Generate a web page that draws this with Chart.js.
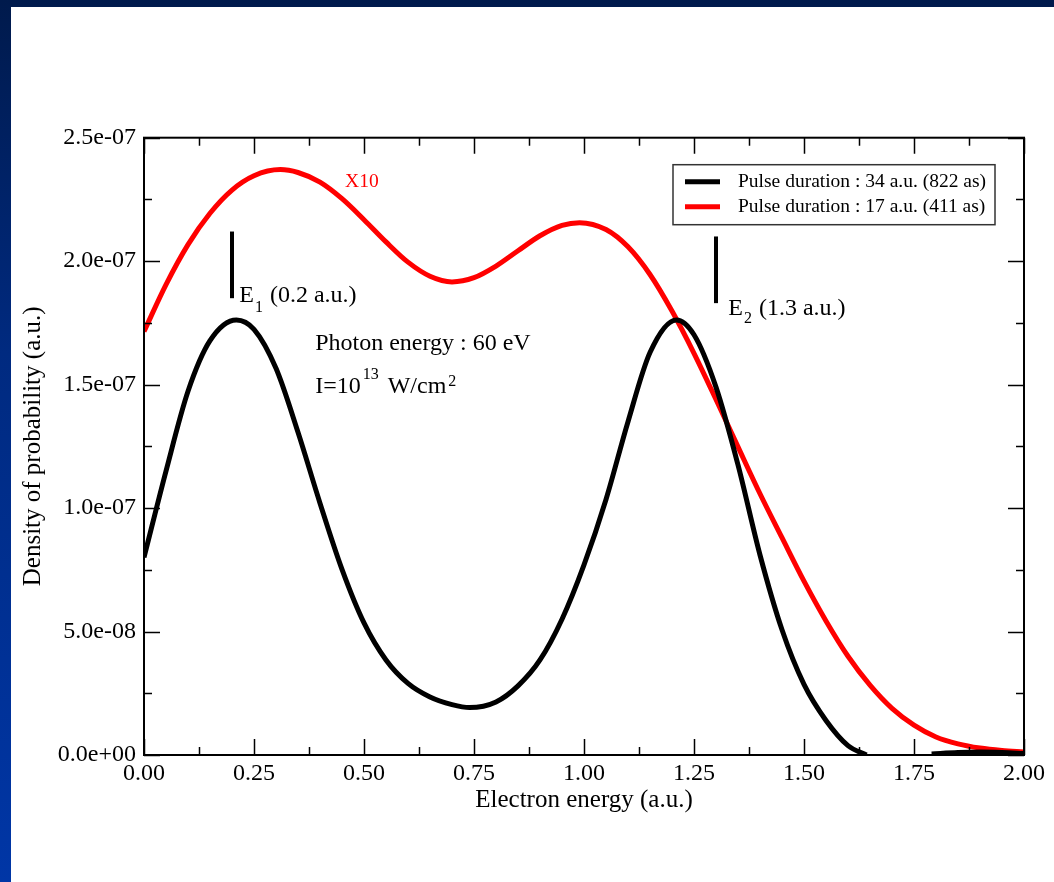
<!DOCTYPE html>
<html>
<head>
<meta charset="utf-8">
<title>Electron energy spectrum</title>
<script src="https://cdn.jsdelivr.net/npm/chart.js@4.4.1/dist/chart.umd.min.js"></script>
<style>
  html, body { margin: 0; padding: 0; overflow: hidden; background: #fff; }
  #wrap { width: 1054px; height: 882px; }
</style>
</head>
<body>
<div id="wrap"><canvas id="spectrum"></canvas></div>
<script>
// Electron energy (a.u.) for each curve
const energyLong = [0, 0.05, 0.10, 0.15, 0.21, 0.25, 0.30, 0.35, 0.40, 0.45, 0.50,
  0.55, 0.60, 0.65, 0.70, 0.74, 0.80, 0.85, 0.90, 0.95, 1.00, 1.05, 1.10, 1.15,
  1.21, 1.25, 1.30, 1.35, 1.40, 1.45, 1.50, 1.55, 1.60, 1.642, 1.72, 1.79, 1.85,
  1.90, 1.95, 2.00];
const energyShort = [0, 0.05, 0.10, 0.15, 0.20, 0.25, 0.31, 0.35, 0.40, 0.45, 0.50,
  0.55, 0.60, 0.65, 0.70, 0.75, 0.80, 0.85, 0.90, 0.95, 0.99, 1.05, 1.10, 1.15,
  1.20, 1.25, 1.30, 1.35, 1.40, 1.45, 1.50, 1.55, 1.60, 1.65, 1.70, 1.75, 1.80,
  1.85, 1.90, 1.95, 2.00];

// Density of probability, 34 a.u. pulse (null = below zero, not drawn)
const densityLong = [0.80e-7, 1.15e-7, 1.473e-7, 1.678e-7, 1.762e-7, 1.724e-7, 1.566e-7,
  1.307e-7, 1.02e-7, 0.752e-7, 0.535e-7, 0.385e-7, 0.29e-7, 0.235e-7, 0.204e-7, 0.192e-7,
  0.215e-7, 0.28e-7, 0.385e-7, 0.55e-7, 0.77e-7, 1.035e-7, 1.35e-7, 1.63e-7, 1.762e-7,
  1.702e-7, 1.49e-7, 1.175e-7, 0.81e-7, 0.507e-7, 0.286e-7, 0.14e-7, 0.038e-7, 0,
  null, 0.004e-7, 0.010e-7, 0.012e-7, 0.010e-7, 0.006e-7];

// Density of probability, 17 a.u. pulse (already multiplied by 10)
const densityShort = [1.715e-7, 1.905e-7, 2.067e-7, 2.194e-7, 2.288e-7, 2.346e-7, 2.371e-7,
  2.359e-7, 2.32e-7, 2.253e-7, 2.168e-7, 2.078e-7, 1.996e-7, 1.939e-7, 1.916e-7, 1.933e-7,
  1.98e-7, 2.042e-7, 2.103e-7, 2.145e-7, 2.156e-7, 2.128e-7, 2.058e-7, 1.946e-7, 1.798e-7,
  1.627e-7, 1.44e-7, 1.248e-7, 1.058e-7, 0.88e-7, 0.704e-7, 0.543e-7, 0.40e-7, 0.283e-7,
  0.189e-7, 0.121e-7, 0.073e-7, 0.045e-7, 0.028e-7, 0.018e-7, 0.012e-7];

const seriesLabels = ['Pulse duration : 34 a.u. (822 as)', 'Pulse duration : 17 a.u. (411 as)'];
const seriesColors = ['#000000', '#ff0000'];

// Resonance markers E1, E2
const markerEnergy = [0.2, 1.3];
const markerTop = [2.12e-7, 2.10e-7];
const markerBottom = [1.85e-7, 1.83e-7];
const markerIndex = ['1', '2'];
const markerValue = ['(0.2 a.u.)', '(1.3 a.u.)'];

const SERIF = '"Liberation Serif", "Times New Roman", serif';

function toPoints(xs, ys) {
  return xs.map((e, i) => ({ x: e, y: ys[i] }));
}

// 2.5e-07 style labels
function sciLabel(v) {
  if (Math.abs(v) < 1e-20) return '0.0e+00';
  const parts = v.toExponential(1).split('e');
  const n = parseInt(parts[1], 10);
  return parts[0] + 'e' + (n < 0 ? '-' : '+') + String(Math.abs(n)).padStart(2, '0');
}

// dark blue slide frame behind the white plot page
const pageBackground = {
  id: 'pageBackground',
  beforeDraw(chart) {
    const { ctx, width, height } = chart;
    const g = ctx.createLinearGradient(0, 0, 0, height);
    g.addColorStop(0, '#001a4c');
    g.addColorStop(0.4, '#002a80');
    g.addColorStop(1, '#0036a6');
    ctx.save();
    ctx.fillStyle = g;
    ctx.fillRect(0, 0, width, height);
    ctx.fillStyle = '#ffffff';
    ctx.fillRect(11, 7, width - 11, height - 7);
    ctx.restore();
  }
};

// box frame with inward major/minor ticks on all four sides
const frameTicks = {
  id: 'frameTicks',
  afterDatasetsDraw(chart) {
    const { ctx, chartArea: a, scales: { x, y } } = chart;
    const major = 16, minor = 8;
    ctx.save();
    ctx.strokeStyle = '#000';
    ctx.lineWidth = 1.5;
    ctx.beginPath();
    const xv = x.ticks.map(t => t.value);
    xv.forEach((v, i) => {
      const px = Math.round(x.getPixelForValue(v)) + 0.5;
      ctx.moveTo(px, a.bottom); ctx.lineTo(px, a.bottom - major);
      ctx.moveTo(px, a.top); ctx.lineTo(px, a.top + major);
      if (i < xv.length - 1) {
        const pm = Math.round(x.getPixelForValue((v + xv[i + 1]) / 2)) + 0.5;
        ctx.moveTo(pm, a.bottom); ctx.lineTo(pm, a.bottom - minor);
        ctx.moveTo(pm, a.top); ctx.lineTo(pm, a.top + minor);
      }
    });
    const yv = y.ticks.map(t => t.value);
    yv.forEach((v, i) => {
      const py = Math.round(y.getPixelForValue(v)) + 0.5;
      ctx.moveTo(a.left, py); ctx.lineTo(a.left + major, py);
      ctx.moveTo(a.right, py); ctx.lineTo(a.right - major, py);
      if (i < yv.length - 1) {
        const pm = Math.round(y.getPixelForValue((v + yv[i + 1]) / 2)) + 0.5;
        ctx.moveTo(a.left, pm); ctx.lineTo(a.left + minor, pm);
        ctx.moveTo(a.right, pm); ctx.lineTo(a.right - minor, pm);
      }
    });
    ctx.stroke();
    ctx.lineWidth = 2;
    ctx.strokeRect(a.left, a.top, a.right - a.left, a.bottom - a.top);
    ctx.restore();
  }
};

// text and markers written inside the plot
const plotNotes = {
  id: 'plotNotes',
  afterDatasetsDraw(chart) {
    const { ctx, scales: { x, y } } = chart;
    const big = '24px ' + SERIF, small = '16px ' + SERIF;
    ctx.save();
    ctx.fillStyle = '#000';
    ctx.strokeStyle = '#000';
    ctx.textBaseline = 'alphabetic';
    ctx.textAlign = 'left';

    // E1 / E2 marker bars with labels
    const labelAt = [[0.2166, 1.836e-7, 10], [1.328, 1.782e-7, 8]];
    markerEnergy.forEach((e, i) => {
      const px = x.getPixelForValue(e);
      ctx.lineWidth = 4;
      ctx.beginPath();
      ctx.moveTo(px, y.getPixelForValue(markerTop[i]));
      ctx.lineTo(px, y.getPixelForValue(markerBottom[i]));
      ctx.stroke();
      let tx = x.getPixelForValue(labelAt[i][0]);
      const ty = y.getPixelForValue(labelAt[i][1]);
      ctx.font = big;
      ctx.fillText('E', tx, ty);
      tx += ctx.measureText('E').width + 1;
      ctx.font = small;
      ctx.fillText(markerIndex[i], tx, ty + labelAt[i][2]);
      tx += ctx.measureText(markerIndex[i]).width + 7;
      ctx.font = big;
      ctx.fillText(markerValue[i], tx, ty);
    });

    // laser parameters
    const px0 = x.getPixelForValue(0.389);
    ctx.font = big;
    ctx.fillText('Photon energy : 60 eV', px0, y.getPixelForValue(1.64e-7));
    const by = y.getPixelForValue(1.465e-7);
    let tx = px0;
    ctx.fillText('I=10', tx, by);
    tx += ctx.measureText('I=10').width + 2;
    ctx.font = small;
    ctx.fillText('13', tx, by - 14);
    tx += ctx.measureText('13').width + 9;
    ctx.font = big;
    ctx.fillText('W/cm', tx, by);
    tx += ctx.measureText('W/cm').width + 2;
    ctx.font = small;
    ctx.fillText('2', tx, by - 7);

    // scaling note for the short pulse
    ctx.fillStyle = '#ff0000';
    ctx.font = '19.5px ' + SERIF;
    ctx.textBaseline = 'middle';
    ctx.fillText('X10', x.getPixelForValue(0.457), y.getPixelForValue(2.322e-7));
    ctx.restore();
  }
};

// boxed legend in the upper right corner of the plot
const boxLegend = {
  id: 'boxLegend',
  afterDraw(chart) {
    const { ctx, chartArea: a } = chart;
    const w = 322, h = 60;
    const left = a.right - 29 - w, top = a.top + 27;
    ctx.save();
    ctx.fillStyle = '#fff';
    ctx.fillRect(left, top, w, h);
    ctx.strokeStyle = '#333';
    ctx.lineWidth = 1.5;
    ctx.strokeRect(left, top, w, h);
    ctx.font = '19.5px ' + SERIF;
    ctx.textBaseline = 'middle';
    ctx.textAlign = 'left';
    chart.data.datasets.forEach((ds, i) => {
      const cy = top + 17 + i * 25;
      ctx.strokeStyle = ds.borderColor;
      ctx.lineWidth = 5;
      ctx.beginPath();
      ctx.moveTo(left + 12, cy);
      ctx.lineTo(left + 47, cy);
      ctx.stroke();
      ctx.fillStyle = '#000';
      ctx.fillText(ds.label, left + 65, cy);
    });
    ctx.restore();
  }
};

new Chart(document.getElementById('spectrum'), {
  type: 'line',
  data: {
    datasets: [
      {
        label: seriesLabels[0],
        data: toPoints(energyLong, densityLong),
        borderColor: seriesColors[0],
        borderWidth: 5,
        pointRadius: 0,
        cubicInterpolationMode: 'monotone',
        spanGaps: false
      },
      {
        label: seriesLabels[1],
        data: toPoints(energyShort, densityShort),
        borderColor: seriesColors[1],
        borderWidth: 5,
        pointRadius: 0,
        cubicInterpolationMode: 'monotone'
      }
    ]
  },
  options: {
    responsive: true,
    maintainAspectRatio: false,
    animation: false,
    events: [],
    layout: { padding: { left: 0, top: 137.7, right: 30, bottom: 0 } },
    plugins: {
      legend: { display: false },
      tooltip: { enabled: false }
    },
    scales: {
      x: {
        type: 'linear',
        min: 0,
        max: 2,
        grid: { display: false, drawTicks: false },
        border: { display: false },
        ticks: {
          stepSize: 0.25,
          padding: 4,
          color: '#000',
          font: { family: SERIF, size: 24 },
          maxRotation: 0,
          callback: v => v.toFixed(2)
        },
        title: {
          display: true,
          text: 'Electron energy (a.u.)',
          color: '#000',
          font: { family: SERIF, size: 25 },
          padding: { top: 0, bottom: 67 }
        },
        afterFit(scale) { scale.height = 127; }
      },
      y: {
        type: 'linear',
        min: 0,
        max: 2.5e-7,
        grid: { display: false, drawTicks: false },
        border: { display: false },
        ticks: {
          stepSize: 5e-8,
          padding: 8,
          color: '#000',
          font: { family: SERIF, size: 24 },
          callback: v => sciLabel(v)
        },
        title: {
          display: true,
          text: 'Density of probability (a.u.)',
          color: '#000',
          font: { family: SERIF, size: 25 },
          padding: { top: 18, bottom: 0 }
        },
        afterFit(scale) { scale.width = 144; }
      }
    }
  },
  plugins: [pageBackground, frameTicks, plotNotes, boxLegend]
});
</script>
</body>
</html>
